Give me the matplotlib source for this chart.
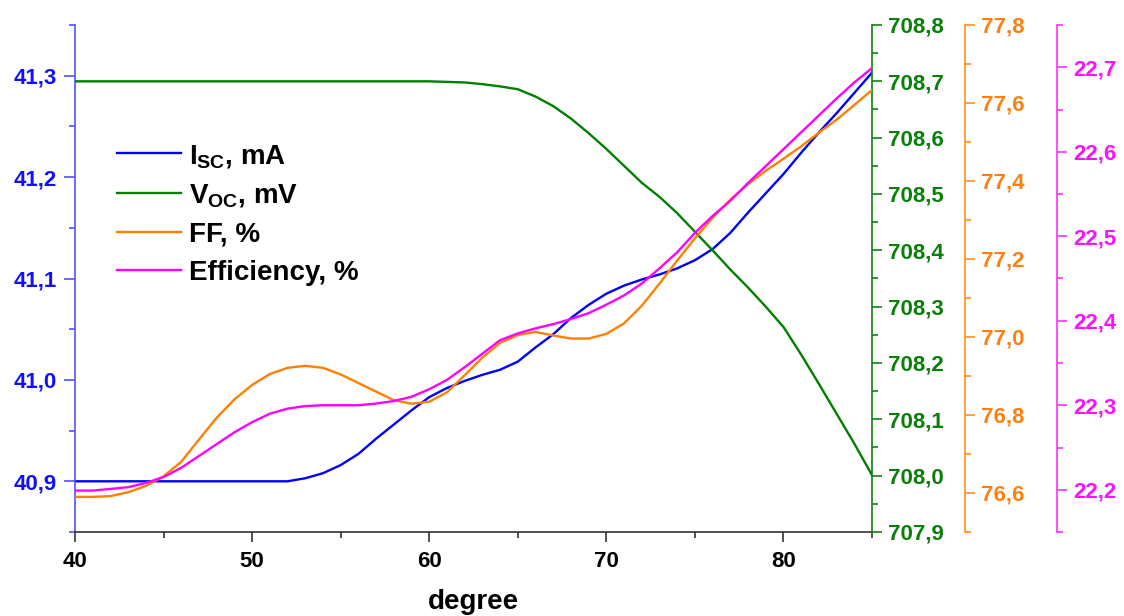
import matplotlib
matplotlib.use("Agg")
import matplotlib.pyplot as plt
from matplotlib.ticker import MultipleLocator, FuncFormatter

plt.rcParams['font.family'] = ['Liberation Sans', 'DejaVu Sans']
plt.rcParams['font.weight'] = 'bold'
plt.rcParams['mathtext.fontset'] = 'custom'
plt.rcParams['mathtext.rm'] = 'Liberation Sans'
plt.rcParams['mathtext.default'] = 'rm'

degree = list(range(40, 86))

isc = [40.900] * 13 + [
    40.903, 40.908, 40.916, 40.927, 40.942, 40.956, 40.970, 40.983, 40.992, 40.999,
    41.005, 41.010, 41.018, 41.032, 41.045, 41.061, 41.074, 41.085, 41.093, 41.099,
    41.104, 41.110, 41.118, 41.129, 41.145, 41.165, 41.184, 41.203, 41.224, 41.244,
    41.263, 41.283, 41.303]

voc = [708.700] * 21 + [
    708.699, 708.698, 708.695, 708.691, 708.686, 708.673, 708.656, 708.634, 708.608,
    708.580, 708.550, 708.520, 708.495, 708.466, 708.433, 708.400, 708.366, 708.334,
    708.300, 708.264, 708.215, 708.163, 708.110, 708.057, 708.001]

ff = [76.590, 76.590, 76.592, 76.602, 76.618, 76.643, 76.680, 76.737, 76.793, 76.840,
      76.877, 76.905, 76.921, 76.926, 76.921, 76.904, 76.882, 76.860, 76.838, 76.829,
      76.834, 76.858, 76.902, 76.947, 76.985, 77.005, 77.013, 77.004, 76.996, 76.996,
      77.008, 77.035, 77.080, 77.137, 77.196, 77.253, 77.306, 77.352, 77.392, 77.426,
      77.457, 77.489, 77.524, 77.557, 77.595, 77.633]

eff = [22.199, 22.199, 22.201, 22.203, 22.208, 22.215, 22.226, 22.240, 22.254, 22.268,
       22.280, 22.290, 22.296, 22.299, 22.300, 22.300, 22.300, 22.302, 22.305, 22.310,
       22.319, 22.330, 22.345, 22.361, 22.377, 22.385, 22.391, 22.396, 22.402, 22.409,
       22.419, 22.430, 22.444, 22.462, 22.481, 22.504, 22.524, 22.542, 22.563, 22.583,
       22.603, 22.623, 22.643, 22.663, 22.682, 22.699]

labels = [r'I$_{\mathregular{SC}}$, mA', r'V$_{\mathregular{OC}}$, mV', 'FF, %', 'Efficiency, %']
colors = ['#0000FF', '#008000', '#FF8000', '#FF00FF']
label_colors = ['#1010FF', '#0A7F0A', '#FF8010', '#FF10FF']
spine_colors = ['#5050FF', '#108010', '#FF9020', '#FF30FF']

fig = plt.figure(figsize=(11.24, 6.16), dpi=100)
ax = fig.add_axes([75 / 1124, 1 - 532 / 616, 797 / 1124, 507 / 616])
ax2 = ax.twinx()
ax3 = ax.twinx()
ax4 = ax.twinx()

comma = FuncFormatter(lambda v, p: f"{v:.1f}".replace('.', ','))
intfmt = FuncFormatter(lambda v, p: f"{v:.0f}")

l1, = ax.plot(degree, isc, color=colors[0], lw=1.7, label=labels[0])
l2, = ax2.plot(degree, voc, color=colors[1], lw=1.7, label=labels[1])
l3, = ax3.plot(degree, ff, color=colors[2], lw=1.7, label=labels[2])
l4, = ax4.plot(degree, eff, color=colors[3], lw=1.7, label=labels[3])

ax.set_xlim(40, 85)
ax.set_ylim(40.85, 41.35)
ax2.set_ylim(707.9, 708.8)
ax3.set_ylim(76.5, 77.8)
ax4.set_ylim(22.15, 22.75)

ax.xaxis.set_major_locator(MultipleLocator(10))
ax.xaxis.set_minor_locator(MultipleLocator(5))
ax.xaxis.set_major_formatter(intfmt)
ax.yaxis.set_major_locator(MultipleLocator(0.1))
ax.yaxis.set_minor_locator(MultipleLocator(0.05))
ax.yaxis.set_major_formatter(comma)
ax2.yaxis.set_major_locator(MultipleLocator(0.1))
ax2.yaxis.set_minor_locator(MultipleLocator(0.05))
ax2.yaxis.set_major_formatter(comma)
ax3.yaxis.set_major_locator(MultipleLocator(0.2))
ax3.yaxis.set_minor_locator(MultipleLocator(0.1))
ax3.yaxis.set_major_formatter(comma)
ax4.yaxis.set_major_locator(MultipleLocator(0.1))
ax4.yaxis.set_minor_locator(MultipleLocator(0.05))
ax4.yaxis.set_major_formatter(comma)

ax.spines['top'].set_visible(False)
ax.spines['right'].set_visible(False)
ax.spines['left'].set_color(spine_colors[0])
ax.spines['bottom'].set_color('#333333')
for s in ['left', 'bottom']:
    ax.spines[s].set_linewidth(1.2)

for a, pos, c, sc in [(ax2, 1.0, label_colors[1], spine_colors[1]),
                      (ax3, 1.1167, label_colors[2], spine_colors[2]),
                      (ax4, 1.232, label_colors[3], spine_colors[3])]:
    for s in ['left', 'top', 'bottom']:
        a.spines[s].set_visible(False)
    a.spines['right'].set_position(('axes', pos))
    a.spines['right'].set_color(sc)
    a.spines['right'].set_linewidth(1.2)
    a.tick_params(axis='y', which='major', colors=sc, labelcolor=c, length=7.5, width=1.2,
                  labelsize=16, pad=4)
    a.tick_params(axis='y', which='minor', colors=sc, length=4.5, width=1.2)

ax.tick_params(axis='y', which='major', colors=spine_colors[0], labelcolor=label_colors[0],
               length=8, width=1.2, labelsize=16, pad=5)
ax.tick_params(axis='y', which='minor', colors=spine_colors[0], length=4.5, width=1.2)
ax.tick_params(axis='x', which='major', colors='#333333', labelcolor='black', length=7,
               width=1.2, labelsize=16, pad=7)
ax.tick_params(axis='x', which='minor', colors='#333333', length=4, width=1.2)

for a in (ax, ax2, ax3, ax4):
    for t in a.get_yticklabels() + a.get_xticklabels():
        t.set_fontweight('bold')

ax.set_xlabel('degree', fontsize=20, fontweight='bold', labelpad=12)

leg = ax.legend(handles=[l1, l2, l3, l4], loc='upper left',
                bbox_to_anchor=(0.0527, 0.768), borderaxespad=0, borderpad=0,
                frameon=False, prop={'size': 20, 'weight': 'bold'},
                handlelength=2.3, handletextpad=0.28, labelspacing=0.45)

fig.savefig('out.png', dpi=100)
